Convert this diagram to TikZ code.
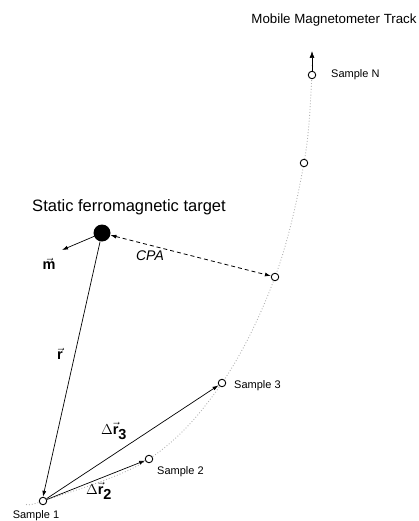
\documentclass[tikz,border=0pt]{standalone}
\usepackage{fontspec}
\setmainfont{Liberation Sans}
\usetikzlibrary{arrows.meta}
\begin{document}
\begin{tikzpicture}[x=1pt,y=-1pt,
  samp/.style={circle,draw=black,fill=white,line width=0.9pt,minimum size=7.5pt,inner sep=0pt},
  lbl/.style={font=\fontsize{11}{12}\selectfont,anchor=west,inner sep=0pt},
  vlbl/.style={font=\fontsize{14.5}{16}\selectfont,inner sep=1pt},
  vec/.style={line width=0.7pt,-{Latex[length=6pt,width=4pt]}},
  track/.style={gray!60,line width=0.9pt,dotted}
]
\useasboundingbox (0,0) rectangle (419,521);
% track
\draw[track] plot[smooth,tension=0.6] coordinates {(312,66) (312,75) (304,163) (275,277) (222,383) (149,459) (43,501) (26,503)};
% samples
\node[samp] (sN) at (312,75) {};
\node[samp] (s4) at (304,163) {};
\node[samp] (cp) at (275,277) {};
\node[samp] (s3) at (222,383) {};
\node[samp] (s2) at (149,459) {};
\node[samp] (s1) at (43,501) {};
\coordinate (top) at (312,51);
\draw[line width=0.7pt,-{Latex[length=7pt,width=5pt]}] (sN) -- (top);
% target
\node[circle,fill=black,minimum size=17pt,inner sep=0pt] (tg) at (102,233) {};
\coordinate (mend) at (62,250);
\draw[vec] (tg) -- (mend);
% vectors
\draw[vec] (tg) -- (s1.north);
\draw[vec] (s1) -- (s3);
\draw[vec] (s1) -- (s2);
% CPA
\draw[line width=0.8pt,dash pattern=on 4pt off 3pt,{Latex[length=6pt,width=4pt]}-{Latex[length=6pt,width=4pt]}] (tg) -- (cp);
% texts
\node[font=\fontsize{13.3}{15}\selectfont] (title) at (334,20) {Mobile Magnetometer Track};
\node[font=\fontsize{16.5}{19}\selectfont] (tgt) at (129,207) {Static ferromagnetic target};
\node[lbl] (lN) at (331,75) {Sample N};
\node[lbl] (l3) at (234,386) {Sample 3};
\node[lbl] (l2) at (157,472) {Sample 2};
\node[lbl,anchor=center] (l1) at (36,516) {Sample 1};
\node[font=\fontsize{14}{16}\selectfont\itshape] (cpa) at (150,256) {CPA};
\node[vlbl] (ml) at (49,264) {$\vec{\textbf{m}}$};
\node[vlbl] (rl) at (60,354) {$\vec{\textbf{r}}$};
\node[vlbl] (r3l) at (114,431) {$\Delta\vec{\textbf{r}}_{\textbf{3}}$};
\node[vlbl] (r2l) at (99,491) {$\Delta\vec{\textbf{r}}_{\textbf{2}}$};
\end{tikzpicture}
\end{document}
